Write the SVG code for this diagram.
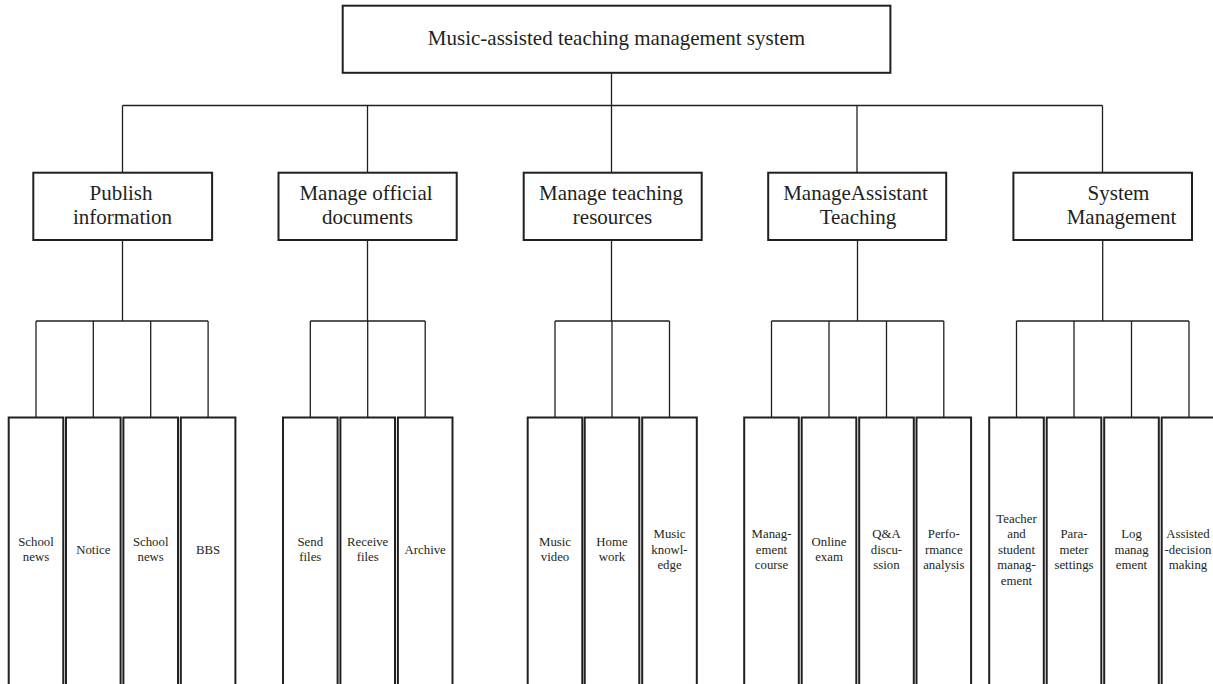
<svg xmlns="http://www.w3.org/2000/svg" width="1213" height="684" viewBox="0 0 1213 684">
<style>
.box{fill:none;stroke:#231f20;stroke-width:2;}
.leaf{fill:none;stroke:#231f20;stroke-width:2;}
.t{font-family:"Liberation Serif","Times New Roman",serif;fill:#231f20;text-anchor:middle;}
.big{font-size:21px;}
.sm{font-size:12.8px;}
.con{fill:none;stroke:#231f20;stroke-width:1.3;}
</style>
<rect width="1213" height="684" fill="#ffffff"/>
<g id="connectors">
<path class="con" d="M611.5,72.8V172.7 M122.5,105.5H1102.5 M122.5,105.5V172.7 M367.5,105.5V172.7 M857,105.5V172.7 M1102.5,105.5V172.7"/>
<path class="con" d="M122.5,240V321 M36,321H208.1 M36,321V417.5 M93.3,321V417.5 M150.7,321V417.5 M208.1,321V417.5"/>
<path class="con" d="M367.5,240V321 M310.3,321H425.2 M310.3,321V417.5 M367.7,321V417.5 M425.2,321V417.5"/>
<path class="con" d="M611.5,240V321 M555,321H669.5 M555,321V417.5 M612,321V417.5 M669.5,321V417.5"/>
<path class="con" d="M857.5,240V321 M771.5,321H943.8 M771.5,321V417.5 M829,321V417.5 M886.5,321V417.5 M943.8,321V417.5"/>
<path class="con" d="M1102.7,240V321 M1016.5,321H1189 M1016.5,321V417.5 M1074,321V417.5 M1131.5,321V417.5 M1189,321V417.5"/>
</g>
<g id="root">
<rect class="box" x="342.7" y="5.7" width="547.7" height="67.1"/>
<text class="t big" x="616.5" y="45">Music-assisted teaching management system</text>
</g>
<g id="n-publish">
<rect class="box" x="33.3" y="172.7" width="178.8" height="67.3"/>
<text class="t big"><tspan x="121" y="199.5">Publish</tspan><tspan x="122.5" y="223.5">information</tspan></text>
</g>
<g id="n-official">
<rect class="box" x="278.5" y="172.7" width="178.2" height="67.3"/>
<text class="t big"><tspan x="366" y="199.5">Manage official</tspan><tspan x="367.5" y="223.5">documents</tspan></text>
</g>
<g id="n-resources">
<rect class="box" x="523.7" y="172.7" width="178" height="67.3"/>
<text class="t big"><tspan x="611" y="199.5">Manage teaching</tspan><tspan x="612.5" y="223.5">resources</tspan></text>
</g>
<g id="n-assist">
<rect class="box" x="768.2" y="172.7" width="178" height="67.3"/>
<text class="t big"><tspan x="855.5" y="199.5">ManageAssistant</tspan><tspan x="858" y="223.5">Teaching</tspan></text>
</g>
<g id="n-system">
<rect class="box" x="1013.4" y="172.7" width="178.6" height="67.3"/>
<text class="t big"><tspan x="1118.5" y="199.5">System</tspan><tspan x="1121.5" y="223.5">Management</tspan></text>
</g>
<g id="l-schoolnews1"><rect class="leaf" x="8.7" y="417.5" width="54.6" height="280"/><text class="t sm"><tspan x="36" y="545.7">School</tspan><tspan x="36" y="561.2">news</tspan></text></g>
<g id="l-notice"><rect class="leaf" x="66" y="417.5" width="54.6" height="280"/><text class="t sm"><tspan x="93.3" y="553.5">Notice</tspan></text></g>
<g id="l-schoolnews2"><rect class="leaf" x="123.4" y="417.5" width="54.6" height="280"/><text class="t sm"><tspan x="150.7" y="545.7">School</tspan><tspan x="150.7" y="561.2">news</tspan></text></g>
<g id="l-bbs"><rect class="leaf" x="180.8" y="417.5" width="54.6" height="280"/><text class="t sm"><tspan x="208.1" y="553.5">BBS</tspan></text></g>
<g id="l-send"><rect class="leaf" x="283" y="417.5" width="54.6" height="280"/><text class="t sm"><tspan x="310.3" y="545.7">Send</tspan><tspan x="310.3" y="561.2">files</tspan></text></g>
<g id="l-receive"><rect class="leaf" x="340.4" y="417.5" width="54.6" height="280"/><text class="t sm"><tspan x="367.7" y="545.7">Receive</tspan><tspan x="367.7" y="561.2">files</tspan></text></g>
<g id="l-archive"><rect class="leaf" x="397.9" y="417.5" width="54.6" height="280"/><text class="t sm"><tspan x="425.2" y="553.5">Archive</tspan></text></g>
<g id="l-musicvideo"><rect class="leaf" x="527.7" y="417.5" width="54.6" height="280"/><text class="t sm"><tspan x="555" y="545.7">Music</tspan><tspan x="555" y="561.2">video</tspan></text></g>
<g id="l-homework"><rect class="leaf" x="584.7" y="417.5" width="54.6" height="280"/><text class="t sm"><tspan x="612" y="545.7">Home</tspan><tspan x="612" y="561.2">work</tspan></text></g>
<g id="l-knowledge"><rect class="leaf" x="642.2" y="417.5" width="54.6" height="280"/><text class="t sm"><tspan x="669.5" y="538">Music</tspan><tspan x="669.5" y="553.5">knowl-</tspan><tspan x="669.5" y="569">edge</tspan></text></g>
<g id="l-course"><rect class="leaf" x="744.2" y="417.5" width="54.6" height="280"/><text class="t sm"><tspan x="771.5" y="538">Manag-</tspan><tspan x="771.5" y="553.5">ement</tspan><tspan x="771.5" y="569">course</tspan></text></g>
<g id="l-exam"><rect class="leaf" x="801.7" y="417.5" width="54.6" height="280"/><text class="t sm"><tspan x="829" y="545.7">Online</tspan><tspan x="829" y="561.2">exam</tspan></text></g>
<g id="l-qa"><rect class="leaf" x="859.2" y="417.5" width="54.6" height="280"/><text class="t sm"><tspan x="886.5" y="538">Q&amp;A</tspan><tspan x="886.5" y="553.5">discu-</tspan><tspan x="886.5" y="569">ssion</tspan></text></g>
<g id="l-perf"><rect class="leaf" x="916.5" y="417.5" width="54.6" height="280"/><text class="t sm"><tspan x="943.8" y="538">Perfo-</tspan><tspan x="943.8" y="553.5">rmance</tspan><tspan x="943.8" y="569">analysis</tspan></text></g>
<g id="l-teacher"><rect class="leaf" x="989.2" y="417.5" width="54.6" height="280"/><text class="t sm"><tspan x="1016.5" y="522.5">Teacher</tspan><tspan x="1016.5" y="538">and</tspan><tspan x="1016.5" y="553.5">student</tspan><tspan x="1016.5" y="569">manag-</tspan><tspan x="1016.5" y="584.5">ement</tspan></text></g>
<g id="l-param"><rect class="leaf" x="1046.7" y="417.5" width="54.6" height="280"/><text class="t sm"><tspan x="1074" y="538">Para-</tspan><tspan x="1074" y="553.5">meter</tspan><tspan x="1074" y="569">settings</tspan></text></g>
<g id="l-log"><rect class="leaf" x="1104.2" y="417.5" width="54.6" height="280"/><text class="t sm"><tspan x="1131.5" y="538">Log</tspan><tspan x="1131.5" y="553.5">manag</tspan><tspan x="1131.5" y="569">ement</tspan></text></g>
<g id="l-decision"><rect class="leaf" x="1161.7" y="417.5" width="54.6" height="280"/><text class="t sm"><tspan x="1188" y="538">Assisted</tspan><tspan x="1188" y="553.5">-decision</tspan><tspan x="1188" y="569">making</tspan></text></g>
</svg>
